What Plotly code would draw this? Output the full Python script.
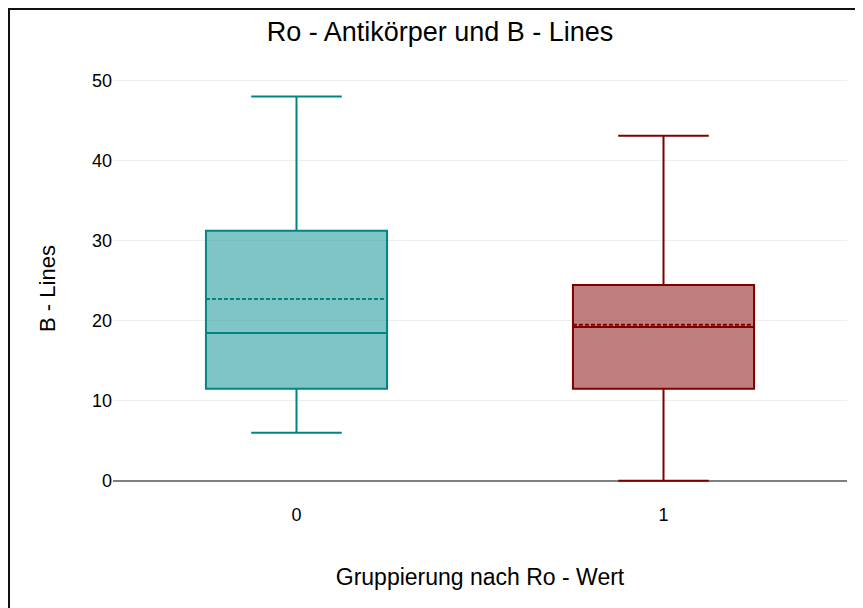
import plotly.graph_objects as go

# Data
groups = ["0", "1"]
lower_fence = [6.0, 0.0]
q1_vals = [11.5, 11.5]
medians = [18.45, 19.2]
means = [22.7, 19.5]
q3_vals = [31.25, 24.45]
upper_fence = [48.0, 43.1]
line_colors = ["#008585", "#800000"]
fill_colors = ["rgba(0,139,139,0.5)", "rgba(128,0,0,0.5)"]

title_text = "Ro - Antikörper und B - Lines"
x_title = "Gruppierung nach Ro - Wert"
y_title = "B - Lines"
y_ticks = [0, 10, 20, 30, 40, 50]

FONT = "Liberation Sans, Arial, sans-serif"

# page body has an 8px margin, so the figure is placed at (8, 8)
W, H = 855, 600

fig = go.Figure()
for i, g in enumerate(groups):
    fig.add_trace(go.Box(
        x=[g],
        q1=[q1_vals[i]],
        median=[medians[i]],
        q3=[q3_vals[i]],
        lowerfence=[lower_fence[i]],
        upperfence=[upper_fence[i]],
        mean=[means[i]],
        boxmean=True,
        line=dict(color=line_colors[i], width=2),
        fillcolor=fill_colors[i],
        whiskerwidth=0.5,
        showlegend=False,
        name=g,
    ))

fig.update_layout(
    width=W,
    height=H,
    margin=dict(l=105, r=16, t=67, b=106),
    paper_bgcolor="white",
    plot_bgcolor="white",
    boxmode="overlay",
    boxgap=0.295,
    font=dict(family=FONT, color="#000000", size=18),
    title=dict(
        text=title_text,
        x=432 / W, xref="container", xanchor="center",
        y=1 - 24 / H, yref="container", yanchor="middle",
        font=dict(family=FONT, size=27, color="#000000"),
    ),
    xaxis=dict(
        type="category",
        range=[-0.5, 1.5],
        showgrid=False,
        showline=False,
        zeroline=False,
        tickfont=dict(size=18),
        title=dict(text=x_title, font=dict(size=23), standoff=44),
    ),
    yaxis=dict(
        range=[-2.65, 50.7],
        tickvals=y_ticks,
        showgrid=True,
        gridcolor="#eeeeee",
        gridwidth=1,
        zeroline=True,
        zerolinecolor="#808080",
        zerolinewidth=2,
        showline=False,
        tickfont=dict(size=18),
        title=dict(text=y_title, font=dict(size=22), standoff=30),
    ),
    shapes=[dict(
        type="rect", xref="paper", yref="paper",
        x0=-104 / (W - 121), x1=1.5, y0=-0.5, y1=1 + 66 / (H - 173),
        line=dict(color="#111111", width=2),
        fillcolor="rgba(0,0,0,0)",
        layer="above",
    )],
)

fig.write_html("out.html")
